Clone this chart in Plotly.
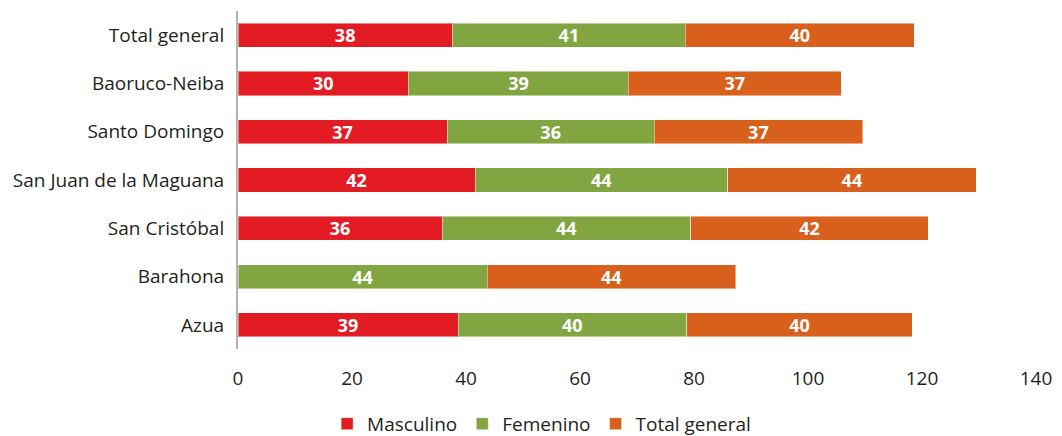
import plotly.graph_objects as go

# Provinces, listed bottom to top as drawn on the category axis
provincias = [
    "Azua",
    "Barahona",
    "San Cristóbal",
    "San Juan de la Maguana",
    "Santo Domingo",
    "Baoruco-Neiba",
    "Total general",
]

masculino = [38.6, None, 35.8, 41.6, 36.7, 29.9, 37.6]
femenino = [40.1, 43.7, 43.6, 44.3, 36.3, 38.6, 40.9]
total_general = [39.6, 43.6, 41.7, 43.6, 36.6, 37.3, 40.1]

x_ticks = [0, 20, 40, 60, 80, 100, 120, 140]

series = [
    ("Masculino", masculino, "#E31B23"),
    ("Femenino", femenino, "#81A641"),
    ("Total general", total_general, "#D9601C"),
]

FONT = "Open Sans"
TEXT = "#231F20"

fig = go.Figure()
for name, vals, color in series:
    fig.add_trace(go.Bar(
        name=name,
        y=provincias,
        x=vals,
        orientation="h",
        marker=dict(color=color, line=dict(color="rgba(255,255,255,0.45)", width=1)),
        width=0.5,
        texttemplate="%{x:.0f}",
        textposition="inside",
        insidetextanchor="middle",
        textangle=0,
        constraintext="none",
        textfont=dict(family=FONT, size=18, color="white", weight="bold"),
        hoverinfo="skip",
    ))

fig.update_layout(
    barmode="stack",
    width=1062,
    height=436,
    margin=dict(l=238, r=26, t=11, b=87, autoexpand=False),
    paper_bgcolor="white",
    plot_bgcolor="white",
    font=dict(family=FONT, size=19, color=TEXT),
    showlegend=True,
    legend=dict(
        orientation="h",
        xref="container",
        yref="container",
        x=0.51,
        xanchor="center",
        y=0.028,
        yanchor="middle",
        font=dict(family=FONT, size=19, color=TEXT),
        traceorder="normal",
        itemwidth=30,
        tracegroupgap=0,
    ),
    xaxis=dict(
        range=[0, 140],
        tickvals=x_ticks,
        ticktext=[str(v) for v in x_ticks],
        showgrid=False,
        zeroline=False,
        showline=False,
        ticks="",
        ticklabelstandoff=16,
        tickfont=dict(family=FONT, size=19, color=TEXT),
        fixedrange=True,
    ),
    yaxis=dict(
        type="category",
        categoryorder="array",
        categoryarray=provincias,
        range=[-0.5, 6.5],
        showgrid=False,
        zeroline=False,
        showline=True,
        linecolor="#B3B3B3",
        linewidth=2,
        ticks="",
        ticklabelstandoff=8,
        tickfont=dict(family=FONT, size=19, color=TEXT),
        fixedrange=True,
    ),
)

fig.write_html("out.html")
